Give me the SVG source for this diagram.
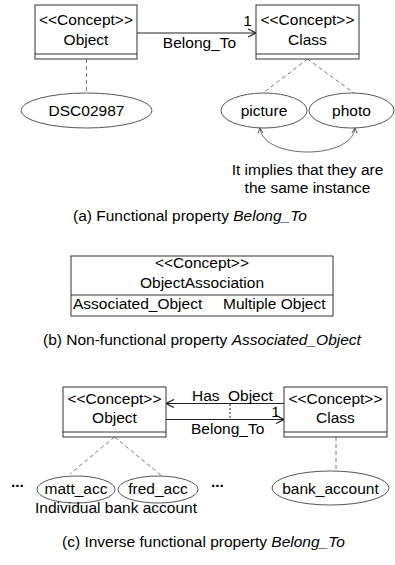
<svg xmlns="http://www.w3.org/2000/svg" width="395" height="565" viewBox="0 0 395 565">
<defs>
<style>
text{font-family:"Liberation Sans",Arial,sans-serif;font-size:15.5px;fill:#000}
.m{text-anchor:middle}
.box{fill:#fff;stroke:#333;stroke-width:1}
.div{stroke:#333;stroke-width:1}
.ell{fill:#fff;stroke:#555;stroke-width:1}
.dash{stroke:#555;stroke-width:0.8;stroke-dasharray:4,3;fill:none}
.dot{stroke:#222;stroke-width:1;stroke-dasharray:2,2;fill:none}
.con{stroke:#222;stroke-width:1.2;fill:none}
.thin{stroke:#444;stroke-width:0.8;fill:none}
.it{font-style:italic}
.dots{font-weight:bold}
</style>
<marker id="arr" viewBox="0 0 10 10" refX="9" refY="5" markerWidth="10" markerHeight="10" markerUnits="userSpaceOnUse" orient="auto-start-reverse">
<path d="M1,1 L9,5 L1,9" fill="none" stroke="#222" stroke-width="1.3"/>
</marker>
<marker id="arrs" viewBox="0 0 8 8" refX="7" refY="4" markerWidth="7" markerHeight="7" markerUnits="userSpaceOnUse" orient="auto-start-reverse">
<path d="M1,1 L7,4 L1,7" fill="none" stroke="#444" stroke-width="1"/>
</marker>
</defs>

<g id="connectors">
<line class="con" x1="137" y1="33" x2="256" y2="33" marker-end="url(#arr)"/>
<line class="dash" x1="86.5" y1="59" x2="86.5" y2="93"/>
<line class="dash" x1="307.5" y1="59" x2="263" y2="93"/>
<line class="dash" x1="307.5" y1="59" x2="354" y2="93"/>
<path class="thin" d="M260,128 C263,160 352,160 355,128" marker-start="url(#arrs)" marker-end="url(#arrs)"/>
<line class="con" x1="284" y1="403.5" x2="166" y2="403.5" marker-end="url(#arr)"/>
<line class="con" x1="166" y1="419.5" x2="284" y2="419.5" marker-end="url(#arr)"/>
<line class="dot" x1="230" y1="404" x2="230" y2="419"/>
<line class="dash" x1="114.5" y1="437" x2="70" y2="474"/>
<line class="dash" x1="114.5" y1="437" x2="162" y2="476"/>
<line class="dash" x1="336" y1="437" x2="336" y2="471"/>
</g>

<g id="a-object">
<rect class="box" x="35" y="5" width="102" height="54"/>
<line class="div" x1="35" y1="54" x2="137" y2="54"/>
<text class="m" x="86" y="25">&lt;&lt;Concept&gt;&gt;</text>
<text class="m" x="86" y="45">Object</text>
</g>
<g id="a-class">
<rect class="box" x="256" y="5" width="103" height="54"/>
<line class="div" x1="256" y1="54" x2="359" y2="54"/>
<text class="m" x="307.5" y="25">&lt;&lt;Concept&gt;&gt;</text>
<text class="m" x="307.5" y="45">Class</text>
</g>
<g id="a-labels">
<text class="m" x="247.5" y="26">1</text>
<text class="m" x="199.5" y="48">Belong_To</text>
</g>
<g id="a-dsc">
<ellipse class="ell" cx="86.5" cy="110.5" rx="65.5" ry="17.5"/>
<text class="m" x="86.5" y="116">DSC02987</text>
</g>
<g id="a-picture">
<ellipse class="ell" cx="264" cy="110.5" rx="43" ry="17.5"/>
<text class="m" x="264" y="116">picture</text>
</g>
<g id="a-photo">
<ellipse class="ell" cx="351.5" cy="110.5" rx="42.5" ry="17.5"/>
<text class="m" x="351.5" y="116">photo</text>
</g>
<g id="a-note">
<text class="m" x="307.5" y="175">It implies that they are</text>
<text class="m" x="307.5" y="193">the same instance</text>
</g>
<text x="73" y="221">(a) Functional property <tspan class="it">Belong_To</tspan></text>

<g id="b-assoc">
<rect class="box" x="71" y="256" width="262" height="60"/>
<line class="div" x1="71" y1="295" x2="333" y2="295"/>
<text class="m" x="202" y="268">&lt;&lt;Concept&gt;&gt;</text>
<text class="m" x="202" y="288">ObjectAssociation</text>
<text x="73" y="308.5">Associated_Object</text>
<text x="223" y="308.5">Multiple Object</text>
</g>
<text x="43" y="345">(b) Non-functional property <tspan class="it">Associated_Object</tspan></text>

<g id="c-object">
<rect class="box" x="63" y="387" width="103" height="50"/>
<line class="div" x1="63" y1="432" x2="166" y2="432"/>
<text class="m" x="114.5" y="404">&lt;&lt;Concept&gt;&gt;</text>
<text class="m" x="114.5" y="423">Object</text>
</g>
<g id="c-class">
<rect class="box" x="284" y="387" width="103" height="50"/>
<line class="div" x1="284" y1="432" x2="387" y2="432"/>
<text class="m" x="335.5" y="404">&lt;&lt;Concept&gt;&gt;</text>
<text class="m" x="335.5" y="423">Class</text>
</g>
<g id="c-labels">
<text x="192" y="401">Has</text>
<text x="228" y="401">Object</text>
<text class="m" x="275.5" y="417">1</text>
<text x="191" y="433.5">Belong_To</text>
</g>
<g id="c-matt">
<ellipse class="ell" cx="76" cy="489.5" rx="39" ry="13.5"/>
<text class="m" x="76" y="494">matt_acc</text>
</g>
<g id="c-fred">
<ellipse class="ell" cx="158" cy="489.5" rx="40" ry="13.5"/>
<text class="m" x="158" y="494">fred_acc</text>
</g>
<g id="c-bank">
<ellipse class="ell" cx="330.5" cy="488" rx="58.5" ry="17"/>
<text class="m" x="330.5" y="494">bank_account</text>
</g>
<text class="dots" x="11" y="487">...</text>
<text class="dots" x="211" y="487">...</text>
<text x="35" y="513">Individual bank account</text>
<text x="62" y="547">(c) Inverse functional property <tspan class="it">Belong_To</tspan></text>
</svg>
